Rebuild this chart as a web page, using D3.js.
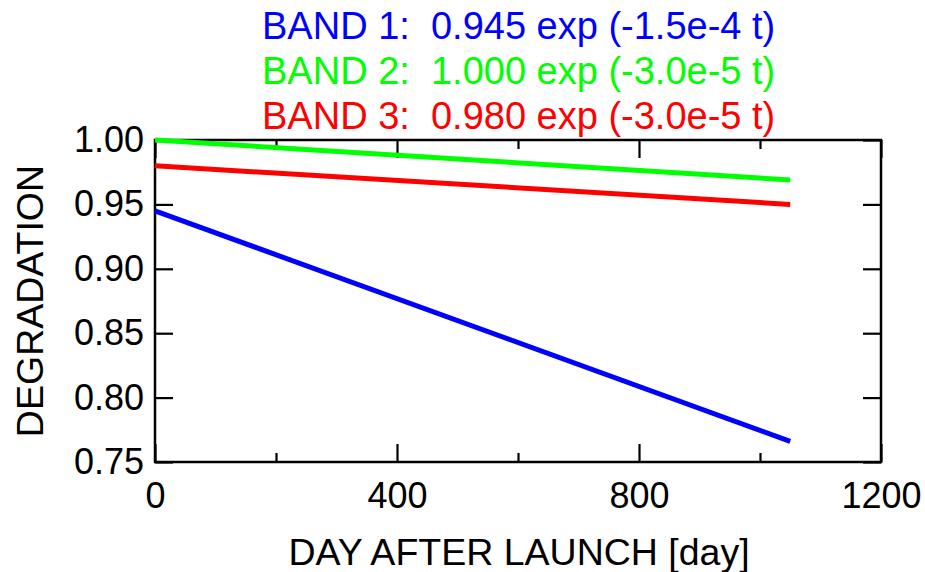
<!DOCTYPE html>
<html>
<head>
<meta charset="utf-8">
<script src="https://cdn.jsdelivr.net/npm/d3@7"></script>
<style>
  body { margin: 0; background: #fff; }
  text { font-family: "Liberation Sans", Arial, sans-serif; }
</style>
</head>
<body>
<script>
// values
var days = [0, 1050];
var band1 = [0.945, 0.766];
var band2 = [1.000, 0.969];
var band3 = [0.980, 0.950];
var bandNames = ["BAND 1:  0.945 exp (-1.5e-4 t)", "BAND 2:  1.000 exp (-3.0e-5 t)", "BAND 3:  0.980 exp (-3.0e-5 t)"];
var bandColors = ["#0000ff", "#00ff00", "#ff0000"];
var xMajor = [0, 400, 800, 1200];
var xMinor = [200, 600, 1000];
var yTicks = [0.75, 0.80, 0.85, 0.90, 0.95, 1.00];

var margin = {top: 140, bottom: 110, left: 155, right: 44},
  width = 925 - margin.left - margin.right,
  height = 572 - margin.top - margin.bottom;

var svg = d3.select("body").append("svg")
    .attr("width", 925)
    .attr("height", 572)
  .append("g")
    .attr("transform", "translate(" + margin.left + "," + margin.top + ")");

var x = d3.scaleLinear().domain([0, 1200]).range([0, width]);
var y = d3.scaleLinear().domain([0.75, 1.00]).range([height, 0]);

var series = [band1, band2, band3].map(function(vals, i) {
  return {name: bandNames[i], color: bandColors[i],
    values: vals.map(function(v, j) { return {day: days[j], val: v}; })};
});

// legend / title lines
svg.selectAll(".band-label")
  .data(series)
  .enter().append("text")
    .attr("class", "band-label")
    .attr("x", 107)
    .attr("y", function(d, i) { return -101 + i * 45; })
    .attr("fill", function(d) { return d.color; })
    .style("font-size", "38px")
    .style("white-space", "pre")
    .text(function(d) { return d.name; });

// major ticks with labels
var xAxis = d3.axisBottom(x).tickValues(xMajor).tickSize(-18).tickPadding(20)
  .tickFormat(d3.format("d"));
var xAxisTop = d3.axisTop(x).tickValues(xMajor).tickSize(-18).tickFormat("");
var xMinorBottom = d3.axisBottom(x).tickValues(xMinor).tickSize(-9).tickFormat("");
var xMinorTop = d3.axisTop(x).tickValues(xMinor).tickSize(-9).tickFormat("");
var yAxis = d3.axisLeft(y).tickValues(yTicks).tickSize(-18).tickPadding(11)
  .tickFormat(d3.format(".2f"));
var yAxisRight = d3.axisRight(y).tickValues(yTicks).tickSize(-18).tickFormat("");

function addAxis(axis, tx, ty) {
  var g = svg.append("g")
    .attr("transform", "translate(" + tx + "," + ty + ")")
    .call(axis);
  g.select(".domain").remove();
  g.selectAll("line").attr("stroke", "#000").attr("stroke-width", 2.2);
  g.selectAll("text").attr("fill", "#000").style("font-size", "36px")
    .style("font-family", "'Liberation Sans', Arial, sans-serif");
  return g;
}

addAxis(xAxis, 0, height);
addAxis(xAxisTop, 0, 0);
addAxis(xMinorBottom, 0, height);
addAxis(xMinorTop, 0, 0);
addAxis(yAxis, 0, 0);
addAxis(yAxisRight, width, 0);

// frame
svg.append("rect")
  .attr("width", width)
  .attr("height", height)
  .attr("fill", "none")
  .attr("stroke", "#000")
  .attr("stroke-width", 2.5);

var line = d3.line()
  .x(function(d) { return x(d.day); })
  .y(function(d) { return y(d.val); });

svg.selectAll(".band")
  .data(series)
  .enter().append("path")
    .attr("class", "band")
    .attr("fill", "none")
    .attr("stroke", function(d) { return d.color; })
    .attr("stroke-width", 5)
    .attr("d", function(d) { return line(d.values); });

// axis titles
svg.append("text")
  .attr("x", width / 2 + 1)
  .attr("y", height + 103)
  .attr("text-anchor", "middle")
  .style("font-size", "37.5px")
  .text("DAY AFTER LAUNCH [day]");

svg.append("text")
  .attr("transform", "translate(" + (-112) + "," + (height / 2) + ") rotate(-90)")
  .attr("text-anchor", "middle")
  .style("font-size", "37.5px")
  .text("DEGRADATION");
</script>
</body>
</html>
